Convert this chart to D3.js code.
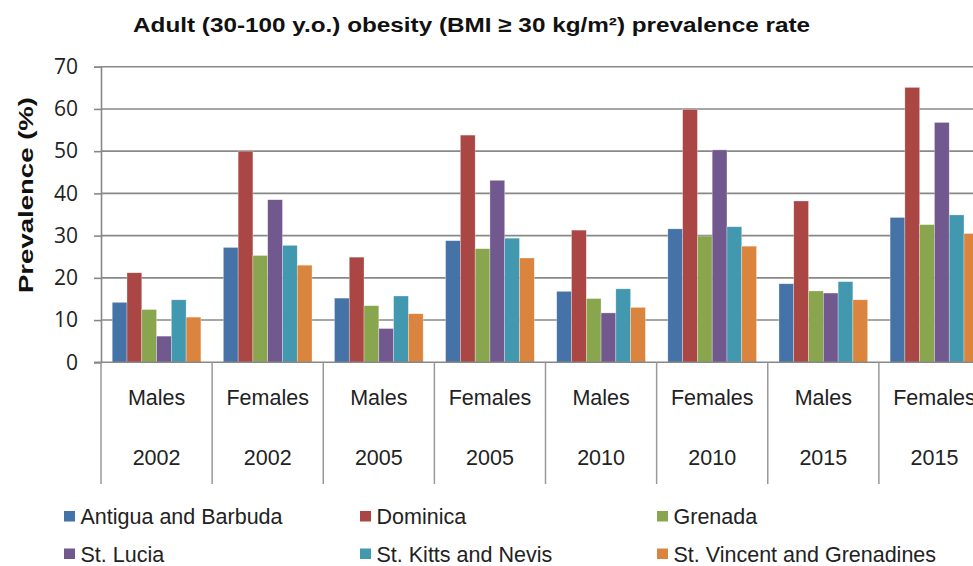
<!DOCTYPE html>
<html><head><meta charset="utf-8">
<script src="https://cdn.jsdelivr.net/npm/d3@7"></script>
<style>body{margin:0;background:#fff}svg{display:block}</style>
</head><body>
<script>
const sexes = ["Males","Females","Males","Females","Males","Females","Males","Females"];
const years = ["2002","2002","2005","2005","2010","2010","2015","2015"];
const seriesNames = ["Antigua and Barbuda","Dominica","Grenada","St. Lucia","St. Kitts and Nevis","St. Vincent and Grenadines"];
const antigua   = [14.2, 27.2, 15.2, 28.8, 16.8, 31.6, 18.6, 34.3];
const dominica  = [21.2, 50.0, 24.9, 53.8, 31.3, 59.9, 38.2, 65.1];
const grenada   = [12.5, 25.3, 13.4, 26.9, 15.1, 29.9, 16.9, 32.6];
const stLucia   = [6.2, 38.5, 8.0, 43.1, 11.7, 50.3, 16.4, 56.8];
const stKitts   = [14.8, 27.7, 15.7, 29.4, 17.4, 32.1, 19.1, 34.9];
const stVincent = [10.7, 23.0, 11.5, 24.7, 13.0, 27.5, 14.8, 30.5];
const yTicks = [0,10,20,30,40,50,60,70];
const colors = ["#4572A7","#AA4643","#89A54E","#71588F","#4198AF","#DB843D"];

const seriesValues = [antigua, dominica, grenada, stLucia, stKitts, stVincent];
const W = 973, H = 566;
const FONT = "Arial, 'Liberation Sans', sans-serif";
const svg = d3.select("body").append("svg").attr("width", W).attr("height", H)
  .style("font-family", FONT);

const cats = sexes.map((s,i)=> i);
const x0 = d3.scaleBand().domain(cats).range([101, 990]).paddingInner(0).paddingOuter(0);
const bw = x0.bandwidth();
const pad = bw * 0.101;
const x1 = d3.scaleBand().domain(seriesNames).range([pad, bw - pad]).padding(0);
const y = d3.scaleLinear().domain([0,70]).range([362.3, 66.7]);

// gridlines
svg.append("g").selectAll("line").data(yTicks.filter(t=>t>0)).join("line")
  .attr("x1", 101).attr("x2", W).attr("y1", d=>y(d)).attr("y2", d=>y(d))
  .attr("stroke", "#888").attr("stroke-width", 1.6);

// y axis
const yAxis = d3.axisLeft(y).tickValues(yTicks).tickSize(7).tickPadding(16);
const gy = svg.append("g").attr("transform","translate(101,0)").call(yAxis);
gy.select(".domain").attr("stroke","#888").attr("stroke-width",1.6);
gy.selectAll(".tick line").attr("stroke","#888").attr("stroke-width",1.6);
gy.selectAll(".tick text").attr("font-size", 21).attr("fill","#222")
  .style("font-family","'Open Sans', 'Noto Sans', sans-serif");

// bars
const groups = svg.append("g").selectAll("g").data(cats).join("g")
  .attr("transform", d=>`translate(${x0(d)},0)`);
groups.selectAll("rect").data(c => seriesNames.map((n,k)=>({n, k, v: seriesValues[k][c]}))).join("rect")
  .attr("x", d=>x1(d.n)).attr("width", x1.bandwidth())
  .attr("y", d=>y(d.v)).attr("height", d=>y(0)-y(d.v))
  .attr("fill", d=>colors[d.k]).attr("stroke","rgba(255,255,255,0.5)").attr("stroke-width",0.6);

// x axis line
svg.append("line").attr("x1", 94).attr("x2", W).attr("y1", y(0)).attr("y2", y(0))
  .attr("stroke","#888").attr("stroke-width",1.6);

// category separators
const bounds = cats.map(c=>x0(c)).concat([x0(cats[cats.length-1])+bw]);
svg.append("g").selectAll("line").data(bounds).join("line")
  .attr("x1", d=>d).attr("x2", d=>d).attr("y1", y(0)).attr("y2", 484)
  .attr("stroke","#999").attr("stroke-width",1.5);

// category labels
const gl = svg.append("g").attr("font-size", 21.5).attr("fill","#222").attr("text-anchor","middle");
gl.selectAll("text.sex").data(cats).join("text").attr("class","sex")
  .attr("x", d=>x0(d)+bw/2).attr("y", 405).text(d=>sexes[d]);
gl.selectAll("text.yr").data(cats).join("text").attr("class","yr")
  .attr("x", d=>x0(d)+bw/2).attr("y", 465).text(d=>years[d]);

// title
svg.append("text").attr("x", 133).attr("y", 31.5)
  .attr("font-size", 21).attr("font-weight","bold").attr("fill","#111")
  .attr("textLength", 677).attr("lengthAdjust","spacingAndGlyphs")
  .text("Adult (30-100 y.o.) obesity (BMI ≥ 30 kg/m²) prevalence rate");

// y title
svg.append("text").attr("transform","translate(33,293) rotate(-90)")
  .attr("font-size",21).attr("font-weight","bold").attr("fill","#111")
  .attr("textLength", 196).attr("lengthAdjust","spacingAndGlyphs")
  .text("Prevalence (%)");

// legend
const legX = [64, 360, 657], legY = [524, 561.5];
const leg = svg.append("g").selectAll("g").data(seriesNames).join("g")
  .attr("transform", (d,i)=>`translate(${legX[i%3]},${legY[Math.floor(i/3)]})`);
leg.append("rect").attr("x",0).attr("y",-13).attr("width",11).attr("height",10.5).attr("fill",(d,i)=>colors[i]);
leg.append("text").attr("x",16.5).attr("y",0).attr("font-size",21.5).attr("fill","#222").text(d=>d);
</script>
</body></html>
